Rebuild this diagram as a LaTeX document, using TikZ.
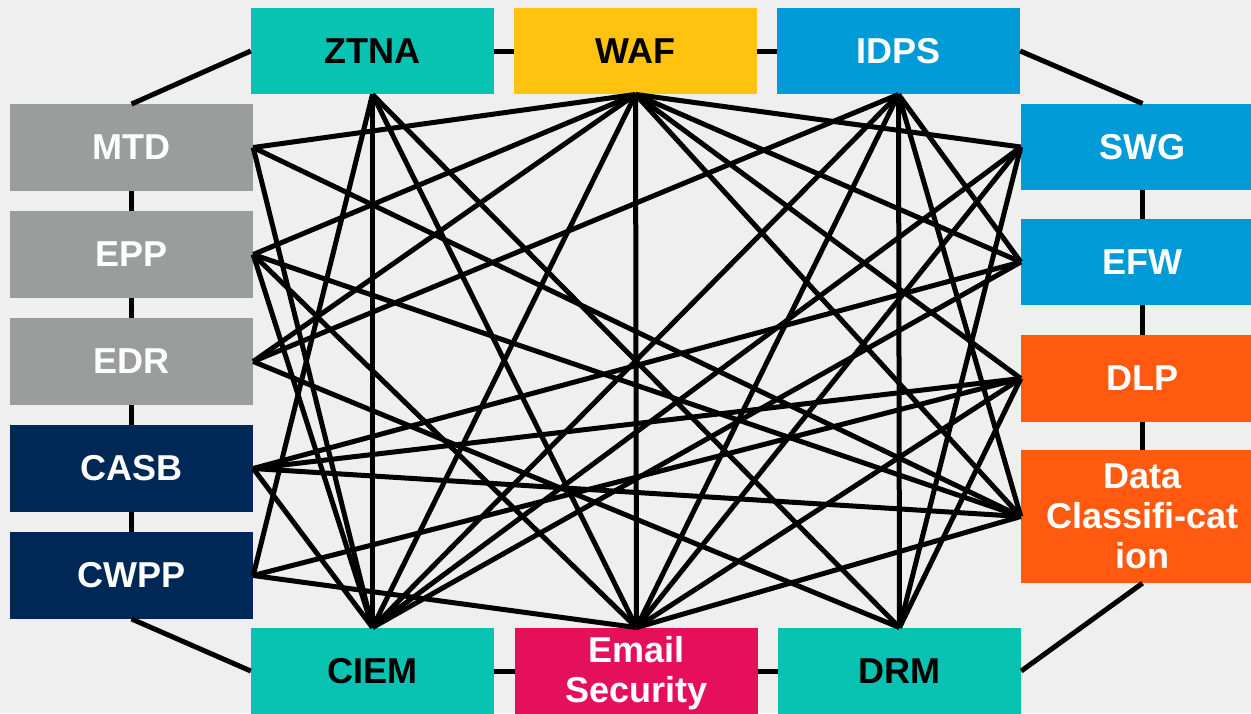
\documentclass[tikz,border=0pt]{standalone}
\usepackage{fontspec}
\setmainfont{Liberation Sans}
\definecolor{bgc}{HTML}{EFEFEF}
\definecolor{tealc}{HTML}{08C3B1}
\definecolor{wafc}{HTML}{FFC20E}
\definecolor{bluec}{HTML}{009AD7}
\definecolor{grayc}{HTML}{999E9D}
\definecolor{navyc}{HTML}{002856}
\definecolor{orangec}{HTML}{FF5A10}
\definecolor{pinkc}{HTML}{E6105A}
\begin{document}
\begin{tikzpicture}[x=1pt,y=-1pt,
  box/.style={rectangle, draw=none, inner sep=0pt, minimum width=243pt, minimum height=86.5pt,
    font=\bfseries\fontsize{36}{40}\selectfont, align=center, text=white},
  link/.style={line width=5pt, draw=black},
  ring/.style={line width=5pt, draw=black}]
\fill[bgc] (0,0) rectangle (1251,713);
\useasboundingbox (0,0) rectangle (1251,713);
\clip (0,0) rectangle (1251,713);
% top row
\node[box, fill=tealc, text=black] (ztna) at (372.5,51) {ZTNA};
\node[box, fill=wafc, text=black] (waf) at (635.5,51) {WAF};
\node[box, fill=bluec] (idps) at (898.5,51) {IDPS};
% left column
\node[box, fill=grayc] (mtd) at (131.5,147.5) {MTD};
\node[box, fill=grayc] (epp) at (131.5,254.5) {EPP};
\node[box, fill=grayc] (edr) at (131.5,361.5) {EDR};
\node[box, fill=navyc] (casb) at (131.5,468.5) {CASB};
\node[box, fill=navyc] (cwpp) at (131.5,575.5) {CWPP};
% right column
\node[box, fill=bluec] (swg) at (1142.5,147) {SWG};
\node[box, fill=bluec] (efw) at (1142.5,262) {EFW};
\node[box, fill=orangec] (dlp) at (1142.5,378.5) {DLP};
\node[box, fill=orangec, minimum height=133pt] (dc) at (1142.5,516.5) {Data\\Classifi-cat\\ion};
% bottom row
\node[box, fill=tealc, text=black] (ciem) at (372.5,671) {CIEM};
\node[box, fill=pinkc, text depth=4pt] (email) at (636.5,671) {Email\\Security};
\node[box, fill=tealc, text=black] (drm) at (899.5,671) {DRM};
% ring
\draw[ring] (ztna.east) -- (waf.west);
\draw[ring] (waf.east) -- (idps.west);
\draw[ring] (idps.east) -- (swg.north);
\draw[ring] (swg.south) -- (efw.north);
\draw[ring] (efw.south) -- (dlp.north);
\draw[ring] (dlp.south) -- (dc.north);
\draw[ring] (dc.south) -- (drm.east);
\draw[ring] (drm.west) -- (email.east);
\draw[ring] (email.west) -- (ciem.east);
\draw[ring] (ciem.west) -- (cwpp.south);
\draw[ring] (cwpp.north) -- (casb.south);
\draw[ring] (casb.north) -- (edr.south);
\draw[ring] (edr.north) -- (epp.south);
\draw[ring] (epp.north) -- (mtd.south);
\draw[ring] (mtd.north) -- (ztna.west);
% mesh links
\draw[link] (ztna.south) -- (cwpp.east);
\draw[link] (ztna.south) -- (ciem.north);
\draw[link] (ztna.south) -- (email.north);
\draw[link] (ztna.south) -- (drm.north);
\draw[link] (waf.south) -- (mtd.east);
\draw[link] (waf.south) -- (epp.east);
\draw[link] (waf.south) -- (edr.east);
\draw[link] (waf.south) -- (ciem.north);
\draw[link] (waf.south) -- (email.north);
\draw[link] (waf.south) -- (swg.west);
\draw[link] (waf.south) -- (efw.west);
\draw[link] (waf.south) -- (dlp.west);
\draw[link] (waf.south) -- (dc.west);
\draw[link] (idps.south) -- (edr.east);
\draw[link] (idps.south) -- (ciem.north);
\draw[link] (idps.south) -- (email.north);
\draw[link] (idps.south) -- (drm.north);
\draw[link] (idps.south) -- (dc.west);
\draw[link] (idps.south) -- (efw.west);
\draw[link] (mtd.east) -- (dc.west);
\draw[link] (mtd.east) -- (ciem.north);
\draw[link] (epp.east) -- (dc.west);
\draw[link] (epp.east) -- (email.north);
\draw[link] (epp.east) -- (ciem.north);
\draw[link] (edr.east) -- (drm.north);
\draw[link] (casb.east) -- (efw.west);
\draw[link] (casb.east) -- (dlp.west);
\draw[link] (casb.east) -- (dc.west);
\draw[link] (casb.east) -- (ciem.north);
\draw[link] (cwpp.east) -- (dlp.west);
\draw[link] (cwpp.east) -- (email.north);
\draw[link] (swg.west) -- (ciem.north);
\draw[link] (swg.west) -- (email.north);
\draw[link] (swg.west) -- (drm.north);
\draw[link] (efw.west) -- (ciem.north);
\draw[link] (dlp.west) -- (email.north);
\draw[link] (dlp.west) -- (drm.north);
\draw[link] (dc.west) -- (email.north);
\end{tikzpicture}
\end{document}
